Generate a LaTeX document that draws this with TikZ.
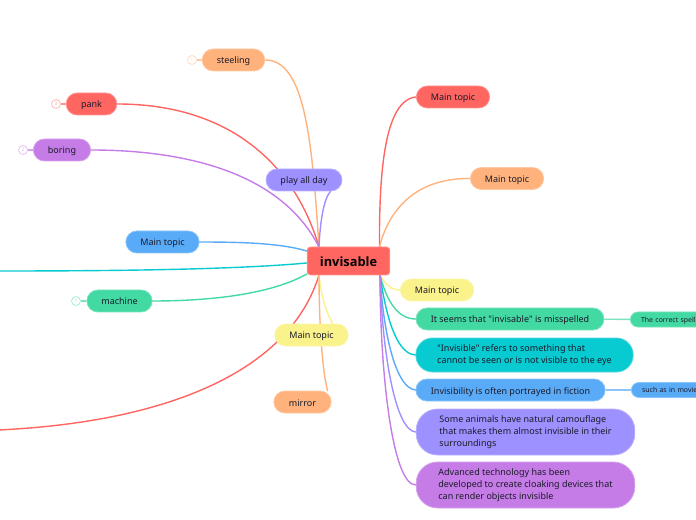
\documentclass[tikz,border=0pt]{standalone}
\usepackage{fontspec}
\setmainfont{Noto Sans}[Ligatures=TeXOff]
\newfontfamily\centerfont{Open Sans}
\pgfdeclarelayer{lines}
\pgfsetlayers{lines,main}
\definecolor{cRed}{HTML}{FF6661}
\definecolor{cOrange}{HTML}{FFB27B}
\definecolor{cViolet}{HTML}{9D90FF}
\definecolor{cPurple}{HTML}{C57CE6}
\definecolor{cBlue}{HTML}{5AABF7}
\definecolor{cTeal}{HTML}{08CAD1}
\definecolor{cGreen}{HTML}{43D9A2}
\definecolor{cYellow}{HTML}{FAF28A}
\definecolor{cInk}{HTML}{1A1A2A}
\tikzset{
  x=0.75pt,y=-0.75pt,
  base/.style={rectangle,draw=#1!70!white,fill=#1,line width=0.6pt,inner sep=0pt,text=cInk},
  topic/.style={base=#1,rounded corners=8.25pt,minimum height=16.5pt,text height=8pt,text depth=2pt,
     font=\fontsize{6.75}{9}\selectfont,align=center},
  para/.style={base=#1,rounded corners=16pt,font=\fontsize{6.75}{9}\selectfont,align=left,
     execute at begin node={\rule{0pt}{9.5pt}}},
  small/.style={base=#1,anchor=west,minimum height=11.25pt,rounded corners=5.6pt,text height=5.6pt,text depth=1.6pt,
     inner xsep=8pt,text width=70pt,align=left,font=\fontsize{5.2}{7}\selectfont},
  badge/.style={circle,draw=#1!45!white,fill=white,line width=0.6pt,inner sep=0pt,minimum size=6.75pt,
     text=#1!60!white,font=\fontsize{3.5}{4}\selectfont},
  link/.style={draw=#1,line width=1.05pt,line cap=round},
  thin link/.style={draw=#1!70!white,line width=1.05pt},
}
\begin{document}
\begin{tikzpicture}
\useasboundingbox (0,0) rectangle (696,520);
\clip (0,0) rectangle (696,520);
% central
\node[base=cRed,rounded corners=2.5pt,minimum width=62pt,minimum height=21pt,text height=10pt,text depth=2.2pt,font=\centerfont\fontsize{9.6}{11}\selectfont\bfseries,text=black] (center) at (348.5,261) {invisable};
% left side
\node[topic=cOrange,minimum width=47pt] (steeling) at (233.5,60) {steeling};
\node[topic=cRed,minimum width=38pt] (pank) at (91.5,104) {pank};
\node[topic=cPurple,minimum width=43pt] (boring) at (62,150) {boring};
\node[topic=cViolet,minimum width=57pt] (play) at (304,180) {play all day};
\node[topic=cBlue,minimum width=55pt] (lblue) at (162.5,242) {Main topic};
\node[topic=cGreen,minimum width=49pt] (machine) at (119.5,301) {machine};
\node[topic=cYellow,minimum width=55pt] (lyellow) at (311.5,335) {Main topic};
\node[topic=cOrange,minimum width=43pt] (mirror) at (302.5,402) {mirror};
\node[badge=cOrange] (b1) at (192,60) {1};
\node[badge=cRed] (b2) at (56,104) {3};
\node[badge=cPurple] (b3) at (23,150) {2};
\node[badge=cGreen] (b4) at (76,301) {1};
% right side
\node[topic=cRed,minimum width=55pt] (rred) at (453,97) {Main topic};
\node[topic=cOrange,minimum width=55pt] (rorange) at (507,178.5) {Main topic};
\node[topic=cYellow,minimum width=55pt] (ryellow) at (437,290) {Main topic};
\node[topic=cGreen,minimum width=141pt] (misspelled) at (510,319) {It seems that "invisable" is misspelled};
\node[para=cTeal,minimum width=163pt,minimum height=25.5pt,rounded corners=12.5pt] (eye) at (524.5,355) {"Invisible" refers to something that\\cannot be seen or is not visible to the eye};
\node[topic=cBlue,minimum width=142pt] (fiction) at (510.5,390) {Invisibility is often portrayed in fiction};
\node[para=cViolet,minimum width=164pt,minimum height=34.5pt] (animals) at (525.5,432) {Some animals have natural camouflage\\that makes them almost invisible in their\\surroundings};
\node[para=cPurple,minimum width=164pt,minimum height=34.5pt] (tech) at (525.5,485) {Advanced technology has been\\developed to create cloaking devices that\\can render objects invisible};
\node[small=cGreen] (spelling) at (630,319.5) {The correct spelling};
\node[small=cBlue] (movies) at (631,390) {such as in movies};
% connector ends
\coordinate (offteal) at (-2,271);
\coordinate (offred) at (-2,430);
\coordinate (ctopL) at (319,247);
\coordinate (ctopR) at (379.5,247);
\coordinate (cbotL) at (319,275);
\coordinate (cbotR) at (380,275);
\begin{pgfonlayer}{lines}
\draw[link=cOrange] (steeling.east) .. controls (305,60) and (312,140) .. (ctopL);
\draw[link=cRed] (pank.east) .. controls (230,104) and (295,165) .. (ctopL);
\draw[link=cPurple] (boring.east) .. controls (180,150) and (280,170) .. (ctopL);
\draw[link=cViolet] (play.south east) ++(-12,0) .. controls (323,200) and (320,225) .. (ctopL);
\draw[link=cBlue] (lblue.east) .. controls (240,242) and (280,243) .. (center.west |- 0,251);
\draw[link=cTeal] (offteal) .. controls (100,271) and (230,270) .. (center.west |- 0,263);
\draw[link=cGreen] (machine.east) .. controls (220,301) and (275,292) .. (center.west |- 0,274);
\draw[link=cRed] (offred) .. controls (170,422) and (290,370) .. (cbotL);
\draw[link=cYellow] (lyellow.north east) ++(-16,0) .. controls (326,312) and (321,295) .. (cbotL);
\draw[link=cOrange] (mirror.north east) ++(-4,0) .. controls (322,370) and (319,320) .. (cbotL);
\draw[link=cRed] (rred.west) .. controls (385,100) and (379,170) .. (ctopR);
\draw[link=cOrange] (rorange.west) .. controls (420,178) and (390,205) .. (ctopR);
\draw[link=cYellow] (ryellow.west) .. controls (390,290) and (385,283) .. (cbotR);
\draw[link=cGreen] (misspelled.west) .. controls (395,319) and (385,295) .. (cbotR);
\draw[link=cTeal] (eye.west) .. controls (395,354) and (385,310) .. (cbotR);
\draw[link=cBlue] (fiction.west) .. controls (395,388) and (383,330) .. (cbotR);
\draw[link=cViolet] (animals.west) .. controls (395,431) and (382,350) .. (cbotR);
\draw[link=cPurple] (tech.west) .. controls (392,485) and (380,370) .. (cbotR);
\draw[thin link=cGreen] (misspelled) -- (spelling);
\draw[thin link=cBlue] (fiction) -- (movies);
\draw[thin link=cOrange] (b1) -- (steeling);
\draw[thin link=cRed] (b2) -- (pank);
\draw[thin link=cPurple] (b3) -- (boring);
\draw[thin link=cGreen] (b4) -- (machine);
\end{pgfonlayer}
\end{tikzpicture}
\end{document}
